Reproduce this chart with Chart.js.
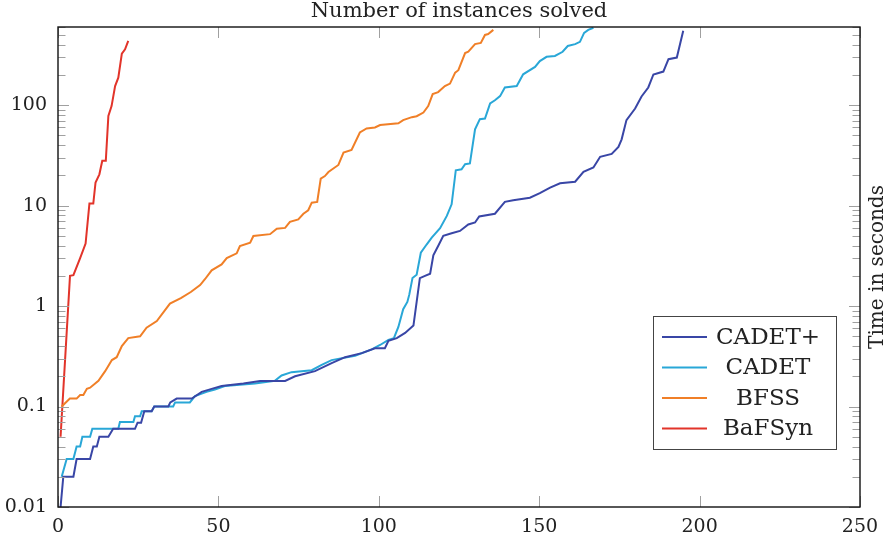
<!DOCTYPE html>
<html>
<head>
<meta charset="utf-8">
<script src="https://cdn.jsdelivr.net/npm/chart.js@4.4.1/dist/chart.umd.min.js"></script>
<style>
  html, body { margin: 0; padding: 0; background: #fff; }
</style>
</head>
<body>
<canvas id="runtime-chart" width="891" height="539"></canvas>
<script>
const seriesNames = ["CADET+", "CADET", "BFSS", "BaFSyn"];
const seriesColors = ["#3946a6", "#29a7d7", "#f07f27", "#e2342a"];

// number of instances solved (x) and time in seconds (y)
const cadetPlusSolved = [0.8, 1.65, 4.8, 5.8, 10, 11, 12.1, 12.9, 15.7, 17.2, 24, 24.8, 25.9, 26.9, 29.2, 30, 34.4, 35, 37, 41.7, 44.8, 47.9, 51, 57.8, 63, 70.8, 73.9, 80.1, 85.3, 89.5, 94.7, 98.8, 101.9, 103, 105.6, 108.2, 110.8, 112.8, 114.4, 116, 117, 118.5, 120.1, 122.7, 125.3, 127.9, 130, 131.3, 136.2, 139.3, 141.9, 147.1, 150.2, 153.4, 156.5, 161.2, 163.8, 166.9, 169, 172.6, 174.7, 175.7, 177.2, 179.9, 181.9, 184, 185.6, 188.7, 190.3, 192.9, 194.9];
const cadetPlusTime = [0.01, 0.02, 0.02, 0.03, 0.03, 0.04, 0.04, 0.05, 0.05, 0.06, 0.06, 0.069, 0.069, 0.09, 0.09, 0.1, 0.1, 0.11, 0.12, 0.12, 0.14, 0.15, 0.16, 0.17, 0.18, 0.18, 0.2, 0.225, 0.27, 0.31, 0.34, 0.38, 0.38, 0.45, 0.48, 0.54, 0.64, 1.9, 2.0, 2.1, 3.2, 3.96, 5.0, 5.3, 5.6, 6.5, 6.8, 7.8, 8.3, 10.9, 11.3, 12.0, 13.3, 15.1, 16.7, 17.3, 21.7, 24, 30.6, 32.7, 38.4, 45.7, 71, 92.6, 122, 150, 202, 216, 287, 298, 550];

const cadetSolved = [1.15, 2.7, 4.8, 5.8, 6.9, 7.6, 10, 10.7, 18.8, 19.3, 23.5, 24, 25.6, 26.1, 29.2, 30, 35.9, 36.5, 41.1, 42.7, 46.3, 48.9, 52, 61.4, 67.6, 69.7, 72.8, 79.1, 82.2, 85.3, 92.6, 97.8, 100.4, 103, 104.7, 106.1, 107.6, 108.9, 109.5, 110.5, 111.8, 113.1, 114.9, 116.5, 119.1, 121.2, 122.7, 124, 125.8, 126.9, 128.4, 130, 131.5, 133.1, 134.7, 136.2, 137.8, 139.3, 143, 145, 148.7, 150.2, 152.3, 154.9, 157.3, 158.9, 161.2, 162.7, 164, 165.3, 166.9];
const cadetTime = [0.02, 0.03, 0.03, 0.04, 0.04, 0.05, 0.05, 0.06, 0.06, 0.07, 0.07, 0.08, 0.08, 0.09, 0.09, 0.1, 0.1, 0.11, 0.11, 0.127, 0.14, 0.148, 0.16, 0.17, 0.18, 0.204, 0.22, 0.23, 0.26, 0.29, 0.32, 0.37, 0.41, 0.46, 0.48, 0.62, 0.93, 1.1, 1.3, 1.9, 2.05, 3.4, 4.1, 4.8, 5.95, 7.9, 10.3, 22.5, 23, 25.8, 26.3, 57.6, 72.6, 73.7, 104, 112, 123, 150, 155, 203, 240, 275, 303, 309, 340, 388, 405, 427, 525, 562, 590];

const bfssSolved = [1.15, 3.7, 5.8, 6.9, 7.9, 9, 10, 12.6, 14.7, 16.8, 18.3, 19.9, 21.9, 25.6, 27.6, 30.8, 34.9, 38.3, 41.4, 44.3, 45.8, 47.9, 51, 52.6, 55.7, 56.7, 59.9, 60.9, 66.1, 68.2, 70.8, 72.3, 74.9, 76.5, 78, 79.1, 80.8, 81.9, 83.2, 84.3, 87.4, 89, 91.5, 94.1, 96.2, 98.8, 100.4, 106.1, 107.6, 110.3, 111.8, 113.9, 115.4, 116.8, 118.5, 120.6, 122.2, 123.8, 124.8, 126.9, 127.9, 130, 131.8, 133.1, 134.1, 135.7];
const bfssTime = [0.1, 0.12, 0.12, 0.13, 0.13, 0.15, 0.154, 0.18, 0.225, 0.29, 0.31, 0.4, 0.48, 0.5, 0.61, 0.71, 1.06, 1.2, 1.38, 1.62, 1.85, 2.27, 2.6, 3.0, 3.35, 3.96, 4.28, 4.98, 5.2, 5.9, 6.0, 6.9, 7.3, 8.3, 9.0, 10.7, 10.9, 18.6, 19.7, 21.6, 25.4, 33.8, 35.8, 53.5, 58.6, 60, 63.5, 66, 71, 76, 77.6, 84.5, 98, 129, 135, 155, 164, 211, 223, 330, 340, 405, 417, 500, 510, 562];

const bafsynSolved = [0.8, 3.74, 4.8, 6.9, 8.6, 9.8, 11, 11.7, 12.9, 13.8, 14.9, 15.7, 16.7, 17.8, 18.8, 19.9, 20.9, 21.9];
const bafsynTime = [0.05, 2.0, 2.03, 3.0, 4.2, 10.5, 10.5, 17, 20.5, 28, 28, 78, 98, 155, 188, 326, 360, 437];

const xTicks = [0, 50, 100, 150, 200, 250];
const yTicks = [0.01, 0.1, 1, 10, 100];
const yMax = 600;

const chartTitle = "Number of instances solved";
const yTitle = "Time in seconds";

const serif = "'DejaVu Serif', serif";

function toPoints(xs, ys) {
  return xs.map((x, i) => ({ x: x, y: ys[i] }));
}

const allSeries = [
  toPoints(cadetPlusSolved, cadetPlusTime),
  toPoints(cadetSolved, cadetTime),
  toPoints(bfssSolved, bfssTime),
  toPoints(bafsynSolved, bafsynTime),
];

// frame, inward tick marks, title, right label and boxed legend
const pgfDecor = {
  id: "pgfDecor",
  afterDatasetsDraw(chart) {
    const { ctx, chartArea: a, scales } = chart;
    const xs = scales.x;
    const ys = scales.y;
    ctx.save();

    ctx.strokeStyle = "#a0a0a0";
    ctx.lineWidth = 1;
    xTicks.forEach((v) => {
      const px = Math.round(xs.getPixelForValue(v)) + 0.5;
      ctx.beginPath();
      ctx.moveTo(px, a.bottom); ctx.lineTo(px, a.bottom - 11);
      ctx.moveTo(px, a.top); ctx.lineTo(px, a.top + 11);
      ctx.stroke();
    });
    for (let d = -2; d <= 2; d++) {
      for (let m = 1; m <= 9; m++) {
        const v = m * Math.pow(10, d);
        if (v < 0.01 || v > yMax) continue;
        const len = m === 1 ? 11 : 7.5;
        const py = Math.round(ys.getPixelForValue(v)) + 0.5;
        ctx.beginPath();
        ctx.moveTo(a.left, py); ctx.lineTo(a.left + len, py);
        ctx.moveTo(a.right, py); ctx.lineTo(a.right - len, py);
        ctx.stroke();
      }
    }

    ctx.strokeStyle = "#111";
    ctx.lineWidth = 1.4;
    ctx.strokeRect(a.left, a.top, a.right - a.left, a.bottom - a.top);

    ctx.fillStyle = "#222";
    ctx.font = "21px " + serif;
    ctx.textAlign = "center";
    ctx.textBaseline = "middle";
    ctx.fillText(chartTitle, (a.left + a.right) / 2, 12);

    ctx.save();
    ctx.translate(878, (a.top + a.bottom) / 2);
    ctx.rotate(-Math.PI / 2);
    ctx.font = "20px " + serif;
    ctx.fillText(yTitle, 0, 0);
    ctx.restore();

    // legend box
    const boxW = 183, boxH = 133;
    const bx = a.right - 24 - boxW;
    const by = a.bottom - 58 - boxH;
    ctx.fillStyle = "#fff";
    ctx.fillRect(bx, by, boxW, boxH);
    ctx.strokeStyle = "#444";
    ctx.lineWidth = 1;
    ctx.strokeRect(bx + 0.5, by + 0.5, boxW, boxH);
    ctx.font = "23px " + serif;
    chart.data.datasets.forEach((ds, i) => {
      const rowY = by + 21 + i * 30.5;
      ctx.strokeStyle = ds.borderColor;
      ctx.lineWidth = 2;
      ctx.beginPath();
      ctx.moveTo(bx + 9, rowY); ctx.lineTo(bx + 54, rowY);
      ctx.stroke();
      ctx.fillStyle = "#222";
      ctx.fillText(ds.label, bx + 115, rowY + 1);
    });
    ctx.restore();
  },
};

new Chart(document.getElementById("runtime-chart"), {
  type: "line",
  data: {
    datasets: allSeries.map((pts, i) => ({
      label: seriesNames[i],
      data: pts,
      borderColor: seriesColors[i],
      backgroundColor: seriesColors[i],
      borderWidth: 2,
      pointRadius: 0,
      tension: 0,
      fill: false,
    })),
  },
  options: {
    responsive: false,
    animation: false,
    devicePixelRatio: 1,
    layout: { padding: { top: 27, right: 31, left: 0, bottom: 0 } },
    plugins: {
      legend: { display: false },
      title: { display: false },
      tooltip: { enabled: false },
    },
    scales: {
      x: {
        type: "linear",
        min: 0,
        max: 250,
        afterBuildTicks: (s) => { s.ticks = xTicks.map((v) => ({ value: v })); },
        afterFit: (s) => { s.height = 32; },
        grid: { display: false, drawTicks: false },
        border: { display: false },
        ticks: { autoSkip: false, maxRotation: 0, padding: 9, color: "#222", font: { family: serif, size: 19 } },
      },
      y: {
        type: "logarithmic",
        min: 0.01,
        max: yMax,
        afterBuildTicks: (s) => { s.ticks = yTicks.map((v) => ({ value: v })); },
        afterFit: (s) => { s.width = 58; },
        grid: { display: false, drawTicks: false },
        border: { display: false },
        ticks: { autoSkip: false, padding: 11, color: "#222", font: { family: serif, size: 19 }, callback: (v) => String(v) },
      },
    },
  },
  plugins: [pgfDecor],
});
</script>
</body>
</html>
